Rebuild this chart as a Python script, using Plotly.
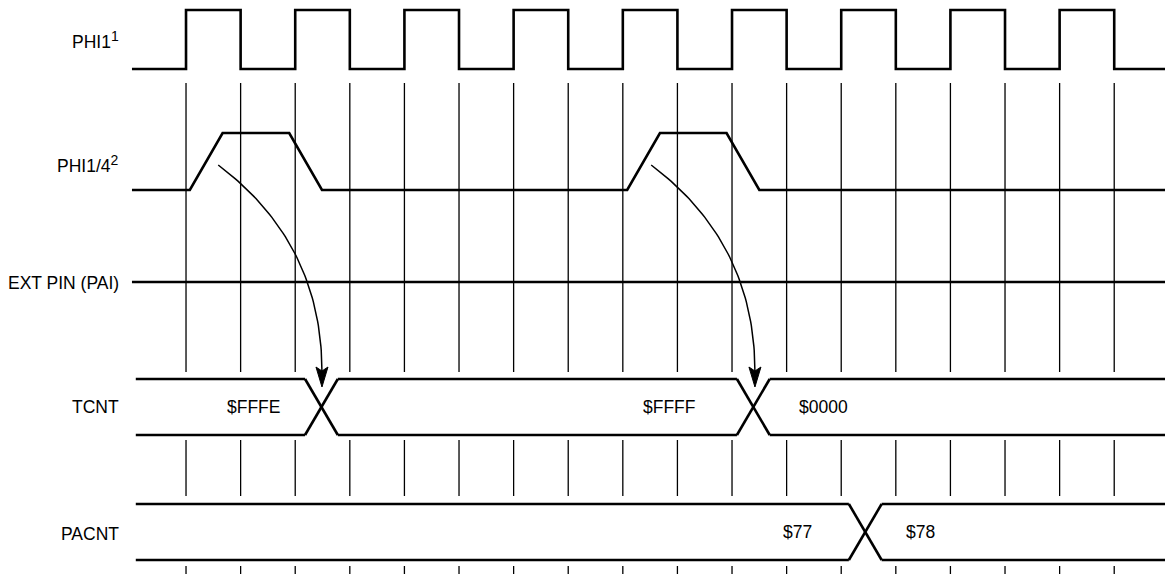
import numpy as np
import plotly.graph_objects as go

# ---- data (time in half clock periods) ----
signal_names = ["PHI1", "PHI1/4", "EXT PIN (PAI)", "TCNT", "PACNT"]
signal_notes = ["1", "2", "", "", ""]
clock_rise = [0, 2, 4, 6, 8, 10, 12, 14, 16]
grid_ticks = list(range(0, 18))
phi14_rise = [0.07, 8.08]
phi14_fall = [1.89, 9.90]
tcnt_transitions = [2.18, 10.09]
tcnt_values = ["$FFFE", "$FFFF", "$0000"]
tcnt_label_t = [1.23, 8.86, 11.68]
pacnt_transitions = [12.14]
pacnt_values = ["$77", "$78"]
pacnt_label_t = [11.2, 13.46]
arrow_start_t = [0.59, 8.52]
arrow_end_t = [2.49, 10.42]

# ---- layout constants ----
T0, TEND = -0.99, 17.95
RAMP = 0.6
XR = [-3.407, 17.93]
LW = 2.6
fig = go.Figure()

def line(xs, ys, w=LW):
    fig.add_trace(go.Scatter(x=xs, y=ys, mode="lines",
                             line=dict(color="black", width=w),
                             hoverinfo="skip", showlegend=False))

# PHI1 clock
lo, hi = 69, 10
xs, ys = [T0], [lo]
for r in clock_rise:
    xs += [r, r, r + 1, r + 1]
    ys += [lo, hi, hi, lo]
xs.append(TEND); ys.append(lo)
line(xs, ys)

# PHI1/4
lo, hi = 190, 133
xs, ys = [T0], [lo]
for r, f in zip(phi14_rise, phi14_fall):
    xs += [r, r + RAMP, f, f + RAMP]
    ys += [lo, hi, hi, lo]
xs.append(TEND); ys.append(lo)
line(xs, ys)

# EXT PIN
line([T0, TEND], [282, 282])

# bus signals
def bus(top, bot, transitions):
    start = -0.92
    for tr in transitions + [None]:
        end = tr if tr is not None else TEND
        line([start, end], [top, top])
        line([start, end], [bot, bot])
        if tr is not None:
            line([tr, tr + RAMP], [top, bot])
            line([tr, tr + RAMP], [bot, top])
            start = tr + RAMP

bus(379, 435, tcnt_transitions)
bus(504, 560, pacnt_transitions)

# vertical grid lines
for seg in [(83, 372), (440, 496), (566, 576)]:
    gx, gy = [], []
    for t in grid_ticks:
        gx += [t, t, None]
        gy += [seg[0], seg[1], None]
    line(gx, gy, w=1.3)

# arrows (quadratic bezier)
px_per_t = 54.6
for s, e in zip(arrow_start_t, arrow_end_t):
    y0, y2 = 165, 372
    ctrl_y = 243
    tt = np.linspace(0, 1, 60)
    bx = (1 - tt) ** 2 * s + 2 * (1 - tt) * tt * e + tt ** 2 * e
    by = (1 - tt) ** 2 * y0 + 2 * (1 - tt) * tt * ctrl_y + tt ** 2 * y2
    line(bx, by, w=1.5)
    hw = 6 / px_per_t
    fig.add_trace(go.Scatter(x=[e - hw, e, e + hw, e, e - hw],
                             y=[367, 371, 367, 387, 367], mode="lines",
                             fill="toself", fillcolor="black",
                             line=dict(color="black", width=1),
                             hoverinfo="skip", showlegend=False))

# labels
label_y = [40, 164, 283, 407, 534]
font = dict(family="Liberation Sans, Arial, sans-serif", size=17.5, color="black")
for name, note, y in zip(signal_names, signal_notes, label_y):
    txt = name
    if note:
        txt += "<sup><span style='font-size:14px'>" + note + "</span></sup>"
    fig.add_annotation(x=-1.19, y=y, text=txt, showarrow=False,
                       xanchor="right", yanchor="middle", font=font)
for v, t in zip(tcnt_values, tcnt_label_t):
    fig.add_annotation(x=t, y=407, text=v, showarrow=False, font=font)
for v, t in zip(pacnt_values, pacnt_label_t):
    fig.add_annotation(x=t, y=532, text=v, showarrow=False, font=font)

fig.update_layout(
    width=1165, height=574,
    margin=dict(l=0, r=0, t=0, b=0),
    paper_bgcolor="white", plot_bgcolor="white",
    xaxis=dict(range=XR, visible=False, fixedrange=True),
    yaxis=dict(range=[574, 0], visible=False, fixedrange=True),
    hovermode=False,
)
fig.write_html("out.html", config={"displayModeBar": False},
               post_script="document.body.style.margin='0';document.body.style.overflow='hidden';")
